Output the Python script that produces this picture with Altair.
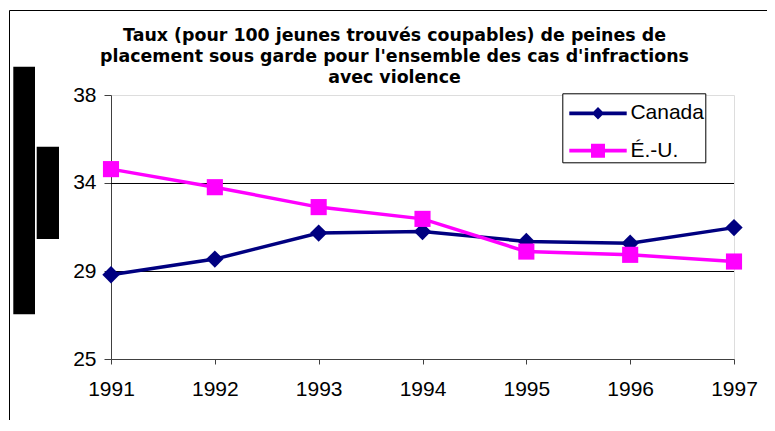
import altair as alt
import pandas as pd

# ---- data ----
years = [1991, 1992, 1993, 1994, 1995, 1996, 1997]
canada = [29.15, 29.92, 31.2, 31.28, 30.79, 30.7, 31.47]
etats_unis = [34.35, 33.46, 32.48, 31.9, 30.29, 30.13, 29.8]
series_names = ["Canada", "É.-U."]
y_ticks = [25, 29.333, 33.667, 38]
grid_values = [29.333, 33.667]
title_lines = [
    "Taux (pour 100 jeunes trouvés coupables) de peines de",
    "placement sous garde pour l'ensemble des cas d'infractions",
    "avec violence",
]

NAVY = "#000080"
MAGENTA = "#FF00FF"
FONT = "Liberation Sans"

df = pd.DataFrame({
    "year": years * 2,
    "value": canada + etats_unis,
    "series": [series_names[0]] * len(years) + [series_names[1]] * len(years),
})
grid_df = pd.DataFrame({"value": grid_values})
legend_df = pd.DataFrame({"series": series_names})
title_df = pd.DataFrame({"t": ["\n".join(title_lines)]})
one = pd.DataFrame({"k": [0]})

x_enc = alt.X(
    "year:Q",
    scale=alt.Scale(domain=[years[0], years[-1]], nice=False, zero=False),
    axis=alt.Axis(values=years, format="d", title=None, grid=False,
                  labelFontSize=21, labelFont=FONT, labelColor="black",
                  labelFlush=False, labelPadding=14, tickSize=5,
                  tickColor="#404040", domainColor="#404040"),
)
y_enc = alt.Y(
    "value:Q",
    scale=alt.Scale(domain=[25, 38], nice=False, zero=False),
    axis=alt.Axis(values=y_ticks, format=".0f", title=None, grid=False,
                  labelFontSize=21, labelFont=FONT, labelColor="black",
                  labelFlush=False, labelPadding=8, tickSize=7,
                  tickColor="#404040", domainColor="#404040"),
)
color_scale = alt.Scale(domain=series_names, range=[NAVY, MAGENTA])

# legend symbols: a line (thin filled bar) with the marker in its middle
r = 19.0
hl = 28.7 / r
ht = 1.9 / r
dia = 6.2 / r
sq = 7.0 / r
bar_path = f"M{-hl:.3f},{-ht:.3f}L{hl:.3f},{-ht:.3f}L{hl:.3f},{ht:.3f}L{-hl:.3f},{ht:.3f}Z"
path_canada = bar_path + f"M0,{-dia:.3f}L{dia:.3f},0L0,{dia:.3f}L{-dia:.3f},0Z"
path_eu = bar_path + f"M{-sq:.3f},{-sq:.3f}L{sq:.3f},{-sq:.3f}L{sq:.3f},{sq:.3f}L{-sq:.3f},{sq:.3f}Z"

legend = alt.Legend(
    title=None, orient="none", legendX=451.3, legendY=-1.7,
    fillColor="white", strokeColor="black", padding=1,
    symbolSize=(2 * r) ** 2, symbolStrokeWidth=0, symbolOffset=15.7,
    symbolOpacity=1,
    labelFontSize=21, labelFont=FONT, labelColor="black",
    labelOffset=13.4, rowPadding=8.4, labelLimit=200,
)

border = alt.Chart(one).mark_rect(fillOpacity=0, stroke="black", strokeWidth=1).encode(
    x=alt.value(-101.5), x2=alt.value(900), y=alt.value(-84.5), y2=alt.value(600))
bar1 = alt.Chart(one).mark_rect(color="black").encode(
    x=alt.value(-97.7), x2=alt.value(-76), y=alt.value(-28.3), y2=alt.value(219.3))
bar2 = alt.Chart(one).mark_rect(color="black").encode(
    x=alt.value(-74.3), x2=alt.value(-52), y=alt.value(51.7), y2=alt.value(144))
title = alt.Chart(title_df).mark_text(
    font="DejaVu Sans", fontSize=17.4, fontWeight="bold", color="black",
    align="center", baseline="alphabetic", lineBreak="\n", lineHeight=21,
).encode(x=alt.value(283.5), y=alt.value(-54.3), text="t:N")

grid = alt.Chart(grid_df).mark_rule(color="black", strokeWidth=1, yOffset=0.5).encode(y=y_enc)

lines = alt.Chart(df).mark_line(strokeWidth=3.5).encode(
    x=x_enc, y=y_enc,
    color=alt.Color("series:N", scale=color_scale, legend=None),
    order="year:Q", detail="series:N")
points = alt.Chart(df).mark_point(filled=True, opacity=1, strokeWidth=0).encode(
    x=x_enc, y=y_enc,
    color=alt.Color("series:N", scale=color_scale, legend=None),
    shape=alt.Shape("series:N", scale=alt.Scale(domain=series_names, range=["diamond", "square"]), legend=None),
    size=alt.Size("series:N", scale=alt.Scale(domain=series_names, range=[300, 260]), legend=None),
)
legend_layer = alt.Chart(legend_df).mark_point(filled=True, opacity=1, strokeWidth=0).encode(
    x=alt.value(-3000), y=alt.value(-3000),
    color=alt.Color("series:N", scale=color_scale, legend=legend),
    shape=alt.Shape("series:N", scale=alt.Scale(domain=series_names, range=[path_canada, path_eu]),
                    legend=legend),
)

chart = alt.layer(border, bar1, bar2, title, grid, lines, points, legend_layer).resolve_scale(
    shape="independent", size="independent", color="independent"
).properties(
    width=623, height=264,
    padding={"left": 103, "top": 87, "right": 33, "bottom": 61},
    autosize=alt.AutoSizeParams(type="none"),
).configure_view(stroke="#999999", strokeWidth=1).configure(background="white")

chart.save("out.html", embed_options={"renderer": "svg", "actions": False})
